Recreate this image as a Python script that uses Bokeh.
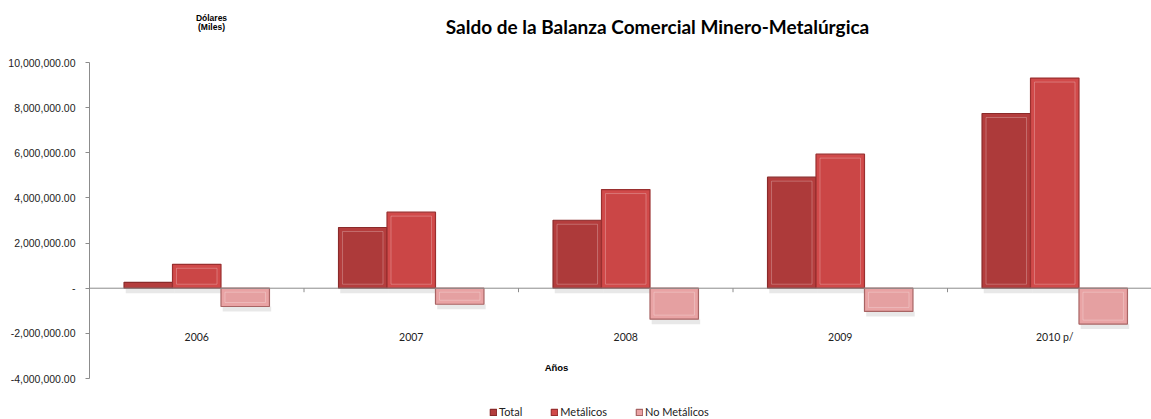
import numpy as np
from bokeh.plotting import figure
from bokeh.models import (Range1d, FixedTicker, NumeralTickFormatter, Span, Label,
                          Legend, LegendItem, ColumnDataSource)
from bokeh.core.properties import value
from bokeh.embed import file_html
from bokeh.resources import INLINE

# ---- data ----
years = ["2006", "2007", "2008", "2009", "2010 p/"]
total = [260000, 2690000, 3010000, 4920000, 7740000]
metalicos = [1060000, 3370000, 4370000, 5940000, 9310000]
no_metalicos = [-810000, -710000, -1370000, -1030000, -1590000]
y_ticks = [-4000000, -2000000, 0, 2000000, 4000000, 6000000, 8000000, 10000000]

title_text = "Saldo de la Balanza Comercial Minero-Metalúrgica"
y_title = ["Dólares", "(Miles)"]
x_title = "Años"
series_names = ["Total", "Metálicos", "No Metálicos"]

# ---- layout constants (page pixels) ----
W, H = 1151, 419
FL = 89                 # frame left
AX_TOP, AX_BOT = 62, 378  # pixel rows of 10M and -4M
CAT_PX = 214.5
y_lo, y_hi = -4000000, 10000000
ppu = (AX_BOT - AX_TOP) / (y_hi - y_lo)   # pixels per unit

def xd(px):  # page px -> data x
    return (px - FL) / CAT_PX - 0.5

def yd(py):  # page py -> data y
    return y_hi - (py - AX_TOP) / ppu

p = figure(width=W, height=H, output_backend="svg", toolbar_location=None,
           x_range=Range1d(xd(FL), xd(W)), y_range=Range1d(yd(H), yd(0)),
           x_axis_location=None, min_border_left=FL, min_border_right=0,
           min_border_top=0, min_border_bottom=0)
p.outline_line_color = None
p.grid.visible = False
p.background_fill_color = "white"

ax = p.yaxis[0]
ax.ticker = FixedTicker(ticks=y_ticks)
ax.bounds = (y_lo, y_hi)
ax.formatter = NumeralTickFormatter(format="0,0.00")
ax.major_label_overrides = {0: "-"}
ax.axis_line_color = "#8c8c8c"
ax.major_tick_line_color = "#8c8c8c"
ax.major_tick_out = 4
ax.major_tick_in = 0
ax.minor_tick_line_color = None
ax.major_label_standoff = 10
ax.major_label_text_font = "Liberation Sans"
ax.major_label_text_font_size = "10.5px"
ax.major_label_text_color = "#222222"

idx = np.arange(len(years))
bw = 0.226
offs = [-bw, 0.0, bw]
fills = ["#B43D3D", "#D14A4A", "#E9A3A4"]
inner = ["#AD3A3A", "#CB4646", "#E5A0A1"]
lines = ["#8A2A2A", "#9A2F2F", "#A86464"]
vals = [total, metalicos, no_metalicos]

# soft shadows under bars
for k in range(3):
    v = np.array(vals[k], dtype=float)
    src = ColumnDataSource(dict(x=idx + offs[k] + 0.008, top=np.minimum(v, 0),
                                bottom=np.minimum(v, 0) - 5.0 / ppu))
    p.vbar(x="x", width=bw, top="top", bottom="bottom", source=src,
           fill_color="#bdbdbd", fill_alpha=0.35, line_color=None)

renderers = []
for k in range(3):
    v = np.array(vals[k], dtype=float)
    src = ColumnDataSource(dict(x=idx + offs[k], top=np.maximum(v, 0), bottom=np.minimum(v, 0)))
    r = p.vbar(x="x", width=bw, top="top", bottom="bottom", source=src,
               fill_color=fills[k], line_color=lines[k], line_width=1.2)
    renderers.append(r)
    # bevel inner face
    ins_y = 4.0 / ppu
    ins_x = 4.0 / CAT_PX
    top_i = np.maximum(v, 0) - ins_y
    bot_i = np.minimum(v, 0) + ins_y
    ok = top_i > bot_i
    src2 = ColumnDataSource(dict(x=(idx + offs[k])[ok], top=top_i[ok], bottom=bot_i[ok]))
    p.vbar(x="x", width=bw - 2 * ins_x, top="top", bottom="bottom", source=src2,
           fill_color=inner[k], line_color="#ffffff", line_alpha=0.25, line_width=1)

# zero line and category boundary ticks
p.add_layout(Span(location=0, dimension="width", line_color="#8c8c8c", line_width=1))
bx = np.arange(len(years) + 1) - 0.5
p.segment(x0=bx, x1=bx, y0=np.zeros(len(bx)), y1=np.full(len(bx), -4.0 / ppu),
          line_color="#8c8c8c", line_width=1)

# category labels
p.text(x=idx, y=np.full(len(years), yd(336)), text=years, text_align="center",
       text_baseline="middle", text_font_size="10.5px", text_color="#222222",
       text_font=value("Lato"))

# titles
p.add_layout(Label(x=xd(657), y=yd(26), text=title_text, text_align="center",
                   text_baseline="middle", text_font="Lato", text_font_style="bold",
                   text_font_size="19px", text_color="#000000"))
p.add_layout(Label(x=xd(211), y=yd(17), text=y_title[0], text_align="center",
                   text_baseline="middle", text_font="Liberation Sans", text_font_style="bold",
                   text_font_size="8.5px", text_color="#000000"))
p.add_layout(Label(x=xd(211), y=yd(26), text=y_title[1], text_align="center",
                   text_baseline="middle", text_font="Liberation Sans", text_font_style="bold",
                   text_font_size="8.5px", text_color="#000000"))
p.add_layout(Label(x=xd(556), y=yd(367), text=x_title, text_align="center",
                   text_baseline="middle", text_font="Liberation Sans", text_font_style="bold",
                   text_font_size="9.5px", text_color="#000000"))

legend = Legend(items=[LegendItem(label=series_names[k], renderers=[renderers[k]]) for k in range(3)],
                orientation="horizontal", location=(400, 1),
                glyph_width=8, glyph_height=8, label_standoff=2, spacing=28,
                padding=0, margin=0, border_line_color=None, background_fill_alpha=0,
                label_text_font="Lato", label_text_font_size="11px", label_height=12,
                label_text_color="#222222")
p.add_layout(legend, "center")

open("out.html", "w").write(file_html(p, INLINE))
